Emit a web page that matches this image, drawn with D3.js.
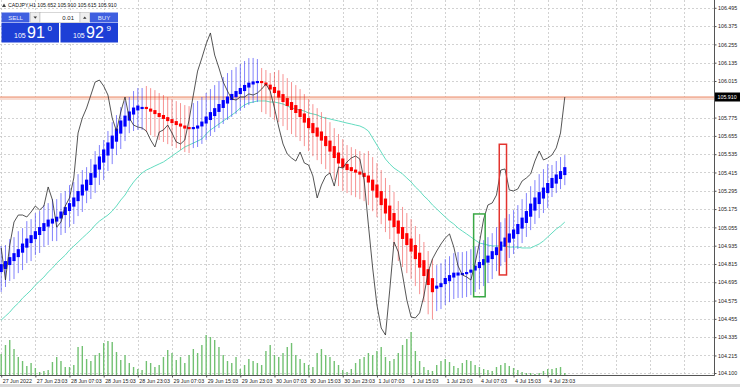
<!DOCTYPE html>
<html>
<head>
  <meta charset="utf-8">
  <title>CADJPY,H1</title>
  <script src="https://d3js.org/d3.v7.min.js"></script>
  <style>
    body { margin: 0; background: #fff; }
    svg { display: block; font-family: "Liberation Sans", Arial, sans-serif; }
    .grid line { stroke: #c6c6c6; stroke-width: 0.8; stroke-dasharray: 2,2; }
    .axis text { font-size: 5.3px; fill: #1a1a1a; font-family: "Liberation Sans", Arial, sans-serif; }
    .axis line { stroke: #555; }
  </style>
</head>
<body>
  <svg id="chart"></svg>

  <script type="text/javascript">
    // ---- data ----
    var header = "CADJPY,H1  105.652 105.910 105.615 105.910";
    var bidPrice = 105.910;

    var priceTicks = [106.495, 106.375, 106.255, 106.135, 106.015, 105.895, 105.775, 105.655, 105.535,
      105.415, 105.295, 105.175, 105.055, 104.935, 104.815, 104.695, 104.575, 104.455, 104.335, 104.215, 104.100];

    var timeLabels = ["27 Jun 2022", "27 Jun 23:03", "28 Jun 07:03", "28 Jun 15:03", "28 Jun 23:03",
      "29 Jun 07:03", "29 Jun 15:03", "29 Jun 23:03", "30 Jun 07:03", "30 Jun 15:03", "30 Jun 23:03",
      "1 Jul 07:03", "1 Jul 15:03", "1 Jul 23:03", "4 Jul 07:03", "4 Jul 15:03", "4 Jul 23:03"];
    var labelBars = [0, 8, 16, 24, 32, 40, 48, 56, 64, 72, 80, 88, 96, 104, 112, 120, 128];
    var emptyBars = [136, 144, 152, 160];

    var closes = [104.920, 104.710, 104.939, 105.090, 105.136, 105.136, 105.123, 105.156, 105.195, 105.169,
      105.195, 105.320, 105.235, 105.057, 105.090, 105.195, 105.248, 105.379, 105.674, 105.772,
      105.838, 105.923, 106.008, 106.021, 105.982, 105.923, 105.772, 105.687, 105.812, 105.910,
      105.772, 105.726, 105.713, 105.707, 105.687, 105.628, 105.582, 105.680, 105.694, 105.726,
      105.674, 105.615, 105.602, 105.628, 105.759, 105.923, 106.080, 106.166, 106.258, 106.330,
      106.185, 106.100, 106.008, 105.949, 105.897, 105.890, 105.910, 105.910, 105.930, 105.923,
      105.936, 105.962, 105.995, 105.949, 105.838, 105.713, 105.602, 105.536, 105.510, 105.490,
      105.549, 105.477, 105.464, 105.392, 105.248, 105.333, 105.392, 105.412, 105.326, 105.451,
      105.444, 105.484, 105.510, 105.523, 105.503, 105.366, 105.071, 104.789, 104.546, 104.395,
      104.349, 104.644, 104.959, 104.894, 104.743, 104.579, 104.467, 104.461, 104.494, 104.605,
      104.762, 104.848, 104.900, 104.946, 104.985, 105.012, 104.926, 104.802, 104.743, 104.730,
      104.710, 104.821, 104.953, 105.110, 105.202, 105.215, 105.267, 105.431, 105.438, 105.300,
      105.294, 105.307, 105.359, 105.379, 105.405, 105.490, 105.556, 105.497, 105.510, 105.530,
      105.576, 105.674, 105.910];

    var maValues = [104.447, 104.473, 104.499, 104.532, 104.558, 104.591, 104.617, 104.644, 104.676, 104.703,
      104.729, 104.762, 104.788, 104.821, 104.847, 104.873, 104.906, 104.932, 104.958, 104.985,
      105.011, 105.037, 105.070, 105.096, 105.116, 105.136, 105.162, 105.195, 105.234, 105.267,
      105.313, 105.352, 105.385, 105.412, 105.431, 105.444, 105.458, 105.471, 105.484, 105.503,
      105.523, 105.543, 105.562, 105.582, 105.595, 105.608, 105.621, 105.635, 105.667, 105.694,
      105.713, 105.733, 105.753, 105.772, 105.792, 105.812, 105.838, 105.858, 105.871, 105.877,
      105.884, 105.884, 105.884, 105.877, 105.877, 105.871, 105.864, 105.851, 105.838, 105.831,
      105.825, 105.818, 105.805, 105.799, 105.792, 105.779, 105.772, 105.766, 105.759, 105.753,
      105.746, 105.739, 105.733, 105.726, 105.720, 105.707, 105.687, 105.641, 105.595, 105.549,
      105.503, 105.471, 105.444, 105.425, 105.405, 105.379, 105.353, 105.320, 105.294, 105.261,
      105.235, 105.202, 105.176, 105.149, 105.123, 105.097, 105.077, 105.051, 105.031, 105.012,
      104.992, 104.972, 104.953, 104.946, 104.939, 104.933, 104.933, 104.933, 104.933, 104.926,
      104.926, 104.926, 104.920, 104.920, 104.920, 104.933, 104.946, 104.966, 104.992, 105.018,
      105.044, 105.064, 105.090];

    var haOpen = [104.762, 104.782, 104.808, 104.834, 104.860, 104.889, 104.922, 104.952, 104.978, 105.005,
      105.031, 105.060, 105.080, 105.093, 105.113, 105.136, 105.162, 105.191, 105.227, 105.264,
      105.296, 105.333, 105.381, 105.434, 105.480, 105.526, 105.571, 105.617, 105.670, 105.716,
      105.755, 105.795, 105.822, 105.831, 105.845, 105.834, 105.824, 105.805, 105.792, 105.778,
      105.765, 105.752, 105.736, 105.723, 105.713, 105.699, 105.703, 105.717, 105.736, 105.759,
      105.785, 105.812, 105.838, 105.867, 105.890, 105.909, 105.929, 105.949, 105.972, 105.992,
      106.001, 106.015, 106.005, 105.991, 105.976, 105.952, 105.929, 105.903, 105.877, 105.857,
      105.831, 105.802, 105.772, 105.739, 105.710, 105.684, 105.654, 105.624, 105.588, 105.546,
      105.507, 105.471, 105.450, 105.434, 105.421, 105.411, 105.395, 105.368, 105.336, 105.293,
      105.244, 105.198, 105.149, 105.100, 105.057, 105.017, 104.982, 104.939, 104.889, 104.840,
      104.781, 104.722, 104.653, 104.663, 104.683, 104.702, 104.726, 104.739, 104.742, 104.748,
      104.758, 104.772, 104.788, 104.807, 104.824, 104.847, 104.873, 104.902, 104.928, 104.955,
      104.981, 105.011, 105.047, 105.084, 105.125, 105.165, 105.208, 105.244, 105.280, 105.313,
      105.342, 105.372, 105.398];

    var haClose = [104.814, 104.834, 104.860, 104.886, 104.912, 104.949, 104.982, 105.004, 105.030, 105.057,
      105.083, 105.106, 105.112, 105.125, 105.159, 105.188, 105.214, 105.251, 105.293, 105.336,
      105.368, 105.411, 105.467, 105.520, 105.566, 105.612, 105.657, 105.703, 105.756, 105.788,
      105.815, 105.841, 105.854, 105.845, 105.831, 105.814, 105.798, 105.779, 105.766, 105.752,
      105.739, 105.726, 105.716, 105.703, 105.699, 105.713, 105.723, 105.749, 105.782, 105.811,
      105.837, 105.864, 105.890, 105.913, 105.930, 105.949, 105.969, 105.989, 106.004, 106.012,
      106.015, 106.001, 105.985, 105.959, 105.936, 105.906, 105.877, 105.851, 105.825, 105.805,
      105.779, 105.742, 105.706, 105.673, 105.650, 105.624, 105.588, 105.552, 105.510, 105.474,
      105.447, 105.431, 105.424, 105.414, 105.401, 105.385, 105.349, 105.296, 105.250, 105.201,
      105.146, 105.100, 105.057, 105.014, 104.979, 104.939, 104.896, 104.847, 104.791, 104.736,
      104.677, 104.630, 104.673, 104.689, 104.723, 104.742, 104.758, 104.759, 104.756, 104.762,
      104.778, 104.804, 104.828, 104.847, 104.870, 104.899, 104.925, 104.962, 104.988, 105.015,
      105.041, 105.077, 105.119, 105.162, 105.211, 105.251, 105.286, 105.316, 105.346, 105.379,
      105.402, 105.424, 105.450];

    var haHigh = [104.932, 104.939, 104.978, 104.991, 105.030, 105.050, 105.096, 105.109, 105.148, 105.162,
      105.201, 105.214, 105.240, 105.240, 105.280, 105.293, 105.332, 105.352, 105.404, 105.431,
      105.450, 105.503, 105.555, 105.595, 105.628, 105.687, 105.745, 105.791, 105.844, 105.883,
      105.910, 105.949, 105.969, 105.969, 105.982, 105.968, 105.955, 105.936, 105.923, 105.909,
      105.896, 105.883, 105.870, 105.857, 105.850, 105.870, 105.884, 105.910, 105.936, 105.962,
      105.988, 106.015, 106.041, 106.067, 106.087, 106.106, 106.126, 106.146, 106.165, 106.166,
      106.159, 106.100, 106.087, 106.067, 106.074, 106.086, 106.060, 106.034, 106.008, 105.988,
      105.962, 105.929, 105.896, 105.863, 105.837, 105.811, 105.778, 105.745, 105.706, 105.667,
      105.634, 105.595, 105.581, 105.568, 105.555, 105.542, 105.556, 105.516, 105.477, 105.431,
      105.379, 105.333, 105.287, 105.228, 105.189, 105.149, 105.110, 105.064, 105.011, 104.959,
      104.900, 104.847, 104.807, 104.820, 104.847, 104.866, 104.886, 104.893, 104.893, 104.899,
      104.912, 104.932, 104.952, 104.971, 104.991, 105.017, 105.056, 105.089, 105.115, 105.142,
      105.168, 105.201, 105.240, 105.280, 105.325, 105.365, 105.404, 105.437, 105.470, 105.464,
      105.490, 105.516, 105.529];

    var haLow = [104.631, 104.664, 104.703, 104.716, 104.755, 104.775, 104.821, 104.834, 104.873, 104.887,
      104.926, 104.939, 104.965, 104.965, 105.005, 105.018, 105.057, 105.077, 105.129, 105.156,
      105.214, 105.241, 105.280, 105.333, 105.366, 105.425, 105.470, 105.529, 105.569, 105.621,
      105.673, 105.687, 105.694, 105.694, 105.681, 105.660, 105.647, 105.628, 105.615, 105.601,
      105.588, 105.575, 105.562, 105.549, 105.542, 105.575, 105.582, 105.602, 105.628, 105.654,
      105.680, 105.707, 105.733, 105.759, 105.779, 105.798, 105.818, 105.838, 105.857, 105.871,
      105.877, 105.811, 105.798, 105.778, 105.759, 105.745, 105.719, 105.693, 105.667, 105.647,
      105.621, 105.588, 105.555, 105.522, 105.496, 105.470, 105.437, 105.404, 105.365, 105.326,
      105.293, 105.280, 105.266, 105.253, 105.240, 105.227, 105.201, 105.161, 105.122, 105.076,
      105.024, 104.978, 104.932, 104.834, 104.795, 104.755, 104.716, 104.670, 104.617, 104.565,
      104.485, 104.453, 104.506, 104.519, 104.546, 104.565, 104.585, 104.592, 104.592, 104.598,
      104.611, 104.631, 104.651, 104.670, 104.690, 104.716, 104.768, 104.801, 104.827, 104.854,
      104.880, 104.913, 104.952, 104.992, 105.037, 105.077, 105.116, 105.149, 105.182, 105.254,
      105.280, 105.306, 105.332];

    var volumes = [1050, 1500, 1750, 1300, 900, 700, 450, 600, 350, 150,
      200, 250, 650, 900, 700, 400, 400, 500, 1400, 1450,
      800, 700, 1000, 1100, 1600, 1700, 1650, 1150, 750, 1000,
      600, 400, 300, 250, 700, 600, 400, 500, 900, 1250,
      1100, 750, 900, 600, 1000, 1300, 1100, 1500, 2000, 1900,
      1750, 1400, 1000, 700, 600, 900, 300, 500, 800, 700,
      600, 500, 1200, 1500, 1000, 900, 1100, 1400, 1600, 1000,
      800, 600, 500, 400, 1100, 1300, 1000, 900, 700, 500,
      250, 150, 300, 600, 800, 900, 1100, 1000, 1200, 1400,
      900, 700, 800, 1100, 1500, 1800, 2150, 1200, 700, 400,
      250, 200, 500, 700, 800, 650, 450, 350, 600, 750,
      700, 500, 400, 300, 250, 200, 400, 500, 600, 450,
      350, 250, 150, 100, 100, 50, 100, 200, 300, 300,
      350, 400, 100];

    // marked zones: bar range and price range
    var zoneFrom = [111, 117];
    var zoneTo = [113, 118];
    var zoneHigh = [105.143, 105.600];
    var zoneLow = [104.600, 104.743];
    var zoneColors = ["#3aa845", "#e3342f"];

    // ---- layout ----
    const svg_width = 740;
    const svg_height = 387;
    const plotRight = 714;
    const plotBottom = 375;

    var x = d3.scaleLinear().domain([0, 132]).range([1.2, 564.8]);
    var y = d3.scaleLinear().domain([104.100, 105.910]).range([373, 97]);
    var yVol = d3.scaleLinear().domain([0, 2500]).range([plotBottom, plotBottom - 50]);

    var svg = d3.select("#chart")
      .attr("width", svg_width)
      .attr("height", svg_height);

    svg.append("rect").attr("width", svg_width).attr("height", svg_height).attr("fill", "#fff");

    // grid
    var grid = svg.append("g").attr("class", "grid");
    grid.selectAll(".hg").data(priceTicks).enter().append("line")
      .attr("x1", 0).attr("x2", plotRight)
      .attr("y1", d => Math.round(y(d)) + 0.5)
      .attr("y2", d => Math.round(y(d)) + 0.5);
    grid.selectAll(".vg").data(labelBars.concat(emptyBars)).enter().append("line")
      .attr("x1", d => Math.round(x(d)) + 0.5)
      .attr("x2", d => Math.round(x(d)) + 0.5)
      .attr("y1", 0).attr("y2", plotBottom);

    // volumes
    svg.append("g").selectAll("line").data(volumes).enter().append("line")
      .attr("x1", (d, i) => x(i)).attr("x2", (d, i) => x(i))
      .attr("y1", yVol(0)).attr("y2", d => yVol(d))
      .attr("stroke", "#72c172").attr("stroke-width", 1.4);

    // bid line
    svg.append("line")
      .attr("x1", 0).attr("x2", plotRight)
      .attr("y1", y(bidPrice) + 1.5).attr("y2", y(bidPrice) + 1.5)
      .attr("stroke", "#f8ddd3").attr("stroke-width", 3);
    svg.append("line")
      .attr("x1", 0).attr("x2", plotRight)
      .attr("y1", y(bidPrice)).attr("y2", y(bidPrice))
      .attr("stroke", "#ec8c6a").attr("stroke-width", 1);

    // moving average
    var line = d3.line().x((d, i) => x(i)).y(d => y(d));
    svg.append("path").datum(maValues)
      .attr("d", line)
      .attr("fill", "none").attr("stroke", "#63dcc0").attr("stroke-width", 1);

    // smoothed candles
    var bars = d3.range(haOpen.length).map(function(i) {
      return { i: i, o: haOpen[i], c: haClose[i], h: haHigh[i], l: haLow[i], up: haClose[i] >= haOpen[i] };
    });

    var cg = svg.append("g");
    cg.selectAll(".wick").data(bars).enter().append("line")
      .attr("x1", d => x(d.i)).attr("x2", d => x(d.i))
      .attr("y1", d => y(d.h)).attr("y2", d => y(d.l))
      .attr("stroke", d => d.up ? "rgba(40,40,250,0.58)" : "rgba(240,40,40,0.5)")
      .attr("stroke-width", 1);
    cg.selectAll(".body").data(bars).enter().append("rect")
      .attr("x", d => x(d.i) - 1.6)
      .attr("width", 3.2)
      .attr("y", d => y(Math.max(d.o, d.c)))
      .attr("height", d => Math.max(1.6, Math.abs(y(d.o) - y(d.c))))
      .attr("fill", d => d.up ? "#0000ff" : "#ff0000");

    // close line
    svg.append("path").datum(closes)
      .attr("d", line)
      .attr("fill", "none").attr("stroke", "#2a2a2a").attr("stroke-width", 0.8);

    // marked zones
    svg.append("g").selectAll("rect").data(zoneFrom).enter().append("rect")
      .attr("x", (d, i) => x(d) - 1.5)
      .attr("width", (d, i) => x(zoneTo[i]) - x(d) + 3)
      .attr("y", (d, i) => y(zoneHigh[i]))
      .attr("height", (d, i) => y(zoneLow[i]) - y(zoneHigh[i]))
      .attr("fill", "none")
      .attr("stroke", (d, i) => zoneColors[i])
      .attr("stroke-width", 1.5);

    // frame
    svg.append("line").attr("x1", plotRight + 0.5).attr("x2", plotRight + 0.5)
      .attr("y1", 0).attr("y2", plotBottom + 0.5).attr("stroke", "#555");
    svg.append("line").attr("x1", 0).attr("x2", plotRight + 0.5)
      .attr("y1", plotBottom + 0.5).attr("y2", plotBottom + 0.5).attr("stroke", "#555");
    svg.append("rect").attr("x", 0).attr("y", 384).attr("width", svg_width).attr("height", 3).attr("fill", "#d9d9d9");

    // price axis
    var yAxis = d3.axisRight(y)
      .tickValues(priceTicks.filter(d => Math.abs(d - bidPrice) > 0.05))
      .tickFormat(d3.format(".3f"))
      .tickSize(2).tickPadding(1.5);
    svg.append("g").attr("class", "axis")
      .attr("transform", "translate(" + (plotRight + 0.5) + ",0)")
      .call(yAxis)
      .call(g => g.select(".domain").remove());

    // time axis
    var xAxis = d3.axisBottom(x)
      .tickValues(labelBars)
      .tickFormat((d, i) => timeLabels[i])
      .tickSize(2).tickPadding(2);
    svg.append("g").attr("class", "axis")
      .attr("transform", "translate(0," + (plotBottom + 0.5) + ")")
      .call(xAxis)
      .call(g => g.select(".domain").remove())
      .call(g => g.selectAll(".tick text").attr("text-anchor", "start").attr("x", 1));

    // bid label
    var bid = svg.append("g").attr("transform", "translate(" + (plotRight + 1) + "," + y(bidPrice) + ")");
    bid.append("rect").attr("x", 0).attr("y", -4.5).attr("width", 25).attr("height", 9).attr("fill", "#000");
    bid.append("text").attr("x", 2.5).attr("y", 2).attr("fill", "#fff")
      .style("font-size", "5.3px").text(d3.format(".3f")(bidPrice));

    // header
    svg.append("path").attr("d", "M2,7 L4,3.5 L6,7 Z").attr("fill", "#444");
    svg.append("text").attr("x", 8).attr("y", 7.2).style("font-size", "5.2px").attr("fill", "#111")
      .text(header);

    // one-click trading panel
    var panel = svg.append("g");
    panel.append("rect").attr("x", 1.5).attr("y", 12.5).attr("width", 28).attr("height", 10).attr("fill", "#3f5fe0");
    panel.append("text").attr("x", 15.5).attr("y", 20).attr("text-anchor", "middle")
      .style("font-size", "6px").attr("fill", "#e8ecff").text("SELL");
    panel.append("rect").attr("x", 30.5).attr("y", 12.5).attr("width", 9.5).attr("height", 10)
      .attr("fill", "#eeeeee").attr("stroke", "#b0b0b0").attr("stroke-width", 0.5);
    panel.append("path").attr("d", "M33.5,16.5 L37,16.5 L35.25,18.8 Z").attr("fill", "#333");
    panel.append("rect").attr("x", 40).attr("y", 12.5).attr("width", 40).attr("height", 10)
      .attr("fill", "#fff").attr("stroke", "#b0b0b0").attr("stroke-width", 0.5);
    panel.append("text").attr("x", 74).attr("y", 20).attr("text-anchor", "end")
      .style("font-size", "6px").attr("fill", "#222").text("0.01");
    panel.append("rect").attr("x", 80).attr("y", 12.5).attr("width", 9.5).attr("height", 10)
      .attr("fill", "#eeeeee").attr("stroke", "#b0b0b0").attr("stroke-width", 0.5);
    panel.append("path").attr("d", "M83,18.8 L86.5,18.8 L84.75,16.5 Z").attr("fill", "#333");
    panel.append("rect").attr("x", 90).attr("y", 12.5).attr("width", 28).attr("height", 10).attr("fill", "#3f5fe0");
    panel.append("text").attr("x", 104).attr("y", 20).attr("text-anchor", "middle")
      .style("font-size", "6px").attr("fill", "#e8ecff").text("BUY");

    var quotes = [["105", "91", "0"], ["105", "92", "9"]];
    quotes.forEach(function(q, k) {
      var g = panel.append("g").attr("transform", "translate(" + (1.5 + k * 59) + ",23)");
      g.append("rect").attr("width", 57.5).attr("height", 19.5).attr("fill", "#1d3fd6");
      g.append("text").attr("x", 12.5).attr("y", 14.5).style("font-size", "7px").attr("fill", "#fff").text(q[0]);
      g.append("text").attr("x", 25.5).attr("y", 14.8).style("font-size", "16px").attr("fill", "#fff").text(q[1]);
      g.append("text").attr("x", 46).attr("y", 8).style("font-size", "8px").attr("fill", "#fff").text(q[2]);
    });
  </script>
</body>
</html>
